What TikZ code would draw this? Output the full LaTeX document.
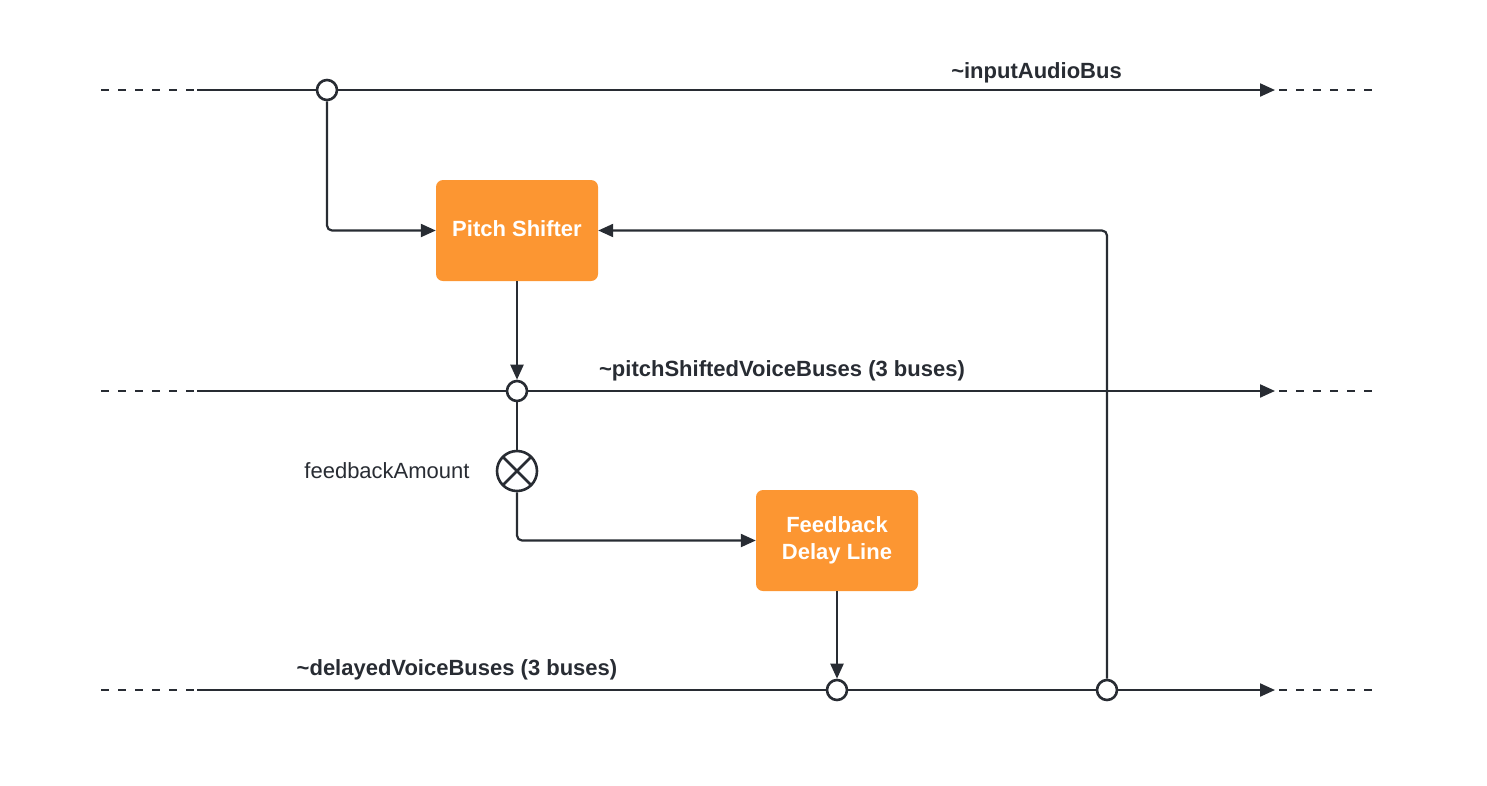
\documentclass[tikz,border=0pt]{standalone}
\usepackage{fontspec}
\setmainfont{Liberation Sans}
\usetikzlibrary{arrows.meta,calc}
\definecolor{ink}{HTML}{282C33}
\definecolor{blockfill}{HTML}{FC9632}
\begin{document}
\begin{tikzpicture}[x=1pt,y=-1pt,
  wire/.style={draw=ink,line width=2.2pt},
  flow/.style={wire,-{Triangle[length=15pt,width=13pt]}},
  tail/.style={wire,dash pattern=on 8pt off 9pt,dash phase=13pt},
  junction/.style={circle,draw=ink,line width=2.6pt,fill=white,minimum size=20pt,inner sep=0pt},
  mixer/.style={circle,draw=ink,line width=2.6pt,fill=white,minimum size=40pt,inner sep=0pt},
  block/.style={rectangle,rounded corners=7pt,fill=blockfill,text=white,
    minimum width=162pt,minimum height=101pt,align=center,
    font=\fontsize{22}{27}\selectfont\bfseries},
  buslabel/.style={anchor=base,text=ink,inner sep=0pt,font=\fontsize{22}{26}\selectfont\bfseries},
  plainlabel/.style={anchor=base,text=ink,inner sep=0pt,font=\fontsize{22}{26}\selectfont}]
\useasboundingbox (0,0) rectangle (1487,785);

% processing blocks
\node[block] (ps) at (517,230.5) {\raisebox{3.5pt}{Pitch Shifter}};
\node[block] (fd) at (837,540.5) {Feedback\\Delay Line};

% bus junctions and the feedback gain
\node[junction] (jt) at (327,90) {};
\node[junction] (jm) at (517,391) {};
\node[junction] (jb1) at (837,690) {};
\node[junction] (jb2) at (1107,690) {};
\node[mixer] (mul) at (517,471) {};
\draw[ink,line width=2.6pt] ($(mul.center)+(-14,-14)$) -- ($(mul.center)+(14,14)$);
\draw[ink,line width=2.6pt] ($(mul.center)+(-14,14)$) -- ($(mul.center)+(14,-14)$);

% bus end points
\coordinate (ta) at (97,90);   \coordinate (tb) at (197,90);
\coordinate (tc) at (1275,90); \coordinate (td) at (1378,90);
\coordinate (ma) at (97,391);  \coordinate (mb) at (197,391);
\coordinate (mc) at (1275,391);\coordinate (md) at (1378,391);
\coordinate (ba) at (97,690);  \coordinate (bb) at (197,690);
\coordinate (bc) at (1275,690);\coordinate (bd) at (1378,690);

% input bus
\draw[tail] (ta) -- (tb);
\draw[wire] (tb) -- (jt);
\draw[flow] (jt) -- (tc);
\draw[tail] (tc) -- (td);

% pitch-shifted bus
\draw[tail] (ma) -- (mb);
\draw[wire] (mb) -- (jm);
\draw[flow] (jm) -- (mc);
\draw[tail] (mc) -- (md);

% delayed bus
\draw[tail] (ba) -- (bb);
\draw[wire] (bb) -- (jb1);
\draw[wire] (jb1) -- (jb2);
\draw[flow] (jb2) -- (bc);
\draw[tail] (bc) -- (bd);

% signal paths
\draw[flow,rounded corners=5pt] (jt) |- (ps.west);
\draw[flow] (ps) -- (jm);
\draw[wire] (jm) -- (mul);
\draw[flow,rounded corners=5pt] (mul) |- (fd.west);
\draw[flow] (fd) -- (jb1);
\draw[flow,rounded corners=5pt] (jb2) |- (ps.east);

% labels
\node[buslabel] (lin) at (1036.5,78) {\textasciitilde inputAudioBus};
\node[buslabel] (lps) at (782,376) {\textasciitilde pitchShiftedVoiceBuses (3 buses)};
\node[plainlabel] (lfb) at (387,478) {feedbackAmount};
\node[buslabel] (ldl) at (457,675) {\textasciitilde delayedVoiceBuses (3 buses)};
\end{tikzpicture}
\end{document}
